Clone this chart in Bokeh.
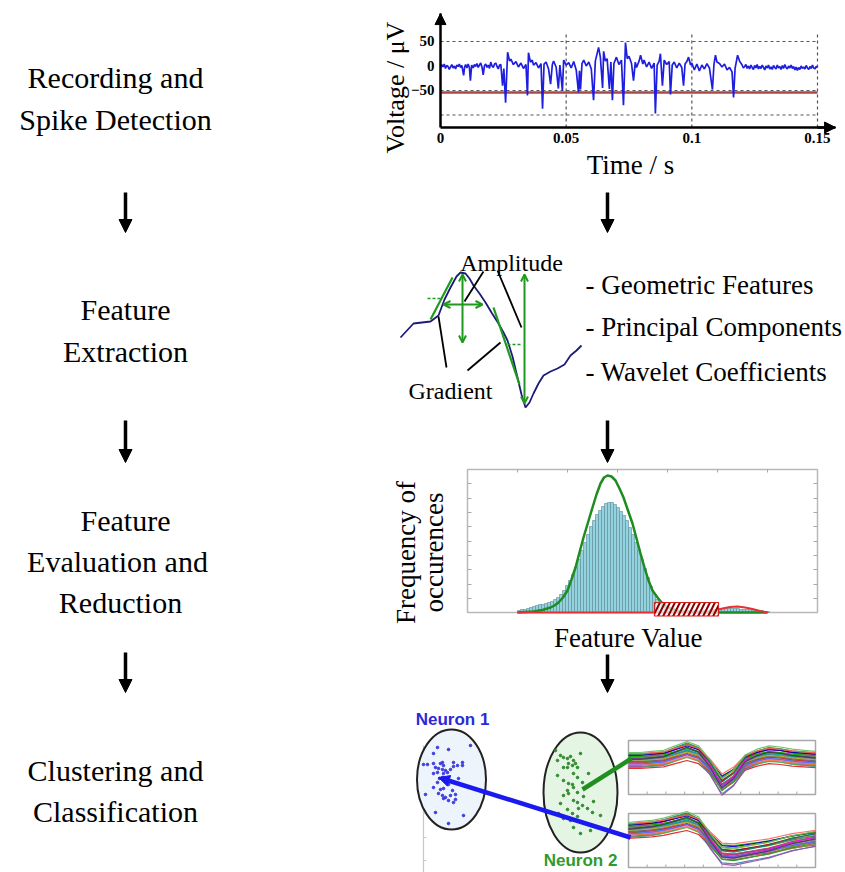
import numpy as np
from bokeh.plotting import figure
from bokeh.layouts import row, column
from bokeh.models import Range1d, FixedTicker, Arrow, NormalHead, OpenHead
from bokeh.core.properties import value
from bokeh.embed import file_html
from bokeh.resources import INLINE

SERIF = "Liberation Serif"
SANS = "Liberation Sans"

# ---------------------------------------------------------------- data
stage_lines = ["Recording and", "Spike Detection", "Feature", "Extraction",
               "Feature", "Evaluation and", "Reduction",
               "Clustering and", "Classification"]
feature_items = ["- Geometric Features", "- Principal Components", "- Wavelet Coefficients"]

time_ms = ([0, 0.5, 1, 1.5, 2, 2.5, 3, 3.5, 4, 4.5, 5, 5.5, 6, 6.5, 7, 7.5, 8, 8.5, 9.2, 9.6,
            10, 10.5, 11, 11.5, 11.9, 12.4, 13, 13.5, 14, 14.5, 15, 15.5, 16, 16.5, 17, 17.5, 18, 18.5, 19, 19.5,
            20, 20.5, 21, 21.5, 22, 22.5, 23, 23.5, 24, 24.7, 25.2, 25.9]
           + [26.7, 27.5, 28, 29, 30, 31, 32, 33, 34, 34.6, 35.0, 35.8, 36.5, 37, 38, 39, 40, 40.6, 41.2, 42, 43, 43.8, 44.5, 45, 46, 46.9, 47.5, 48.5, 49, 50]
           + [51, 52, 53, 54, 54.9, 55.3, 55.7, 56.3, 57, 58, 59, 60, 60.9, 61.6, 62.9, 63.6, 64.5, 64.9, 65.6, 66.3, 67.2, 67.8, 68.4, 69, 70, 71, 72, 72.8, 73.6, 74.3, 75]
           + [76, 76.8, 77.5, 78, 79, 79.6, 80.5, 81, 82, 83, 84, 85, 85.5, 86.2, 87, 87.5, 88.3, 89, 90, 91, 91.5, 92.2, 93, 94, 95, 96, 96.7, 97.3, 98, 98.7, 99.5, 100]
           + [101, 102, 103, 104, 105, 106, 107, 108.2, 108.8, 109.4, 110, 111, 112, 113, 114, 115, 116, 116.6, 117.2, 118.2, 119]
           + [120, 120.5, 121, 121.5, 122, 122.5, 123, 123.5, 124, 124.5, 125, 125.5, 126, 126.5, 127, 127.5, 128, 128.5, 129, 129.5,
              130, 130.5, 131, 131.5, 132, 132.5, 133, 133.5, 134, 134.5, 135, 135.5, 136, 136.5, 137, 137.5, 138, 138.5, 139, 139.5,
              140, 140.5, 141, 141.5, 142, 142.5, 143, 143.5, 144, 144.5, 145, 145.5, 146, 146.5, 147, 147.5, 148, 148.5, 149, 149.5, 150])
voltage_uv = ([-3, 3, -2, 4, -5, 1, -1, -7, -2, 3, -4, 0, -6, 2, -1, 4, -3, 1, -19, -2,
               3, -4, 4, -3, -30, 2, -4, 3, -1, 5, -3, 2, 6, -2, -18, 1, 4, -3, 2, -5,
               8, 0, -3, 4, 6, -1, -6, 2, 3, -40, -5, -75]
              + [28, 10, 14, 3, 9, -2, 6, -5, 3, -60, 27, 8, 12, 2, 7, -4, 5, -87, 4, 8, -6, -37, 3, 10, -2, -46, 2, -50, 12, 2]
              + [7, -4, 9, -8, -54, -10, -48, 5, 12, 0, 8, -6, -70, 10, 38, 18, -45, 30, 10, 15, -47, 8, -70, 5, 18, 3, 12, -80, 48, 15, 20]
              + [5, -30, 8, -3, 10, 22, 4, 12, -2, 8, -5, 6, -97, 2, 10, 25, -40, 12, 3, 9, -58, 2, 8, -4, 6, -3, -40, 4, 9, 18, 2, 6]
              + [-8, 4, -10, 2, -6, 5, -4, -48, 3, 22, 8, 5, -2, 4, -8, -3, -12, -64, -5, 22, 10]
              + [2, -4, -1, 3, -5, 0, -6, 2, -3, -7, 1, -4, 3, -6, -1, -5, 2, -3, -8, 0,
                 -4, 2, -6, -2, -7, 1, -3, -6, 2, -4, -1, -7, 1, -5, 3, -3, -6, 0, -4, 2,
                 -5, -1, -8, -2, -9, -3, -7, 0, -5, -2, -6, 1, -4, -7, -1, -5, 2, -4, -6, -1, -3])
threshold_uv = -54
v_ticks = [-50, 0, 50]
t_ticks = [0, 0.05, 0.1, 0.15]
t_tick_labels = ["0", "0.05", "0.1", "0.15"]
grid_v = [50, -50, -100]
grid_t = [0.05, 0.1, 0.15]

# feature-extraction sketch (a single spike waveform)
spike_x = [400, 413, 430, 438, 444, 450, 456, 460, 465, 469, 473, 479, 485, 491, 498, 503, 507, 512, 517, 521,
           525, 529, 533, 538, 543, 550, 557, 564, 570, 576, 581]
spike_y = [337, 323, 321, 315, 299, 287, 276, 272, 273, 278, 285, 293, 302, 312, 323, 332, 340, 356, 377, 394,
           407, 402, 393, 383, 375, 371, 368, 364, 355, 350, 345]

# histogram of one feature
hist_start, hist_bin = 1.0, 0.06
hist_counts = [2, 3, 3, 4, 5, 6, 7, 8, 8, 9,
               10, 11, 13, 15, 18, 22, 27, 32, 38, 45,
               53, 62, 70, 78, 86, 92, 98, 102, 106, 109,
               110, 110, 108, 105, 101, 97, 92, 85, 78, 70,
               62, 53, 44, 35, 26, 19, 13, 9, 6, 5,
               4, 3, 3, 2, 2, 2, 2, 2, 2, 2,
               2, 2, 2, 2, 3, 3, 3, 4, 4, 4,
               4, 4, 4, 4, 3, 3, 3, 3, 2, 2,
               2, 2, 1, 1]
fit_main_u = [1.0, 1.16, 1.32, 1.5, 1.66, 1.74, 1.82, 1.91, 2.0, 2.08, 2.16, 2.24, 2.32, 2.41, 2.5, 2.58, 2.66, 2.73,
              2.8, 2.88, 2.96, 3.04, 3.12, 3.21, 3.3, 3.38, 3.46, 3.54, 3.62, 3.7, 3.8, 3.9, 4.0, 4.26, 4.66, 5.2, 6.0]
fit_main_h = [0, 0.5, 1, 2.5, 5, 7, 10, 15, 22, 33, 45, 60, 75, 90, 105, 118, 129, 135,
              137, 136, 132, 124, 115, 102, 89, 74, 59, 45, 32, 22, 15, 9, 5, 1, 0, 0, 0]
fit_noise_u = [1.0, 4.8, 4.95, 5.1, 5.25, 5.4, 5.55, 5.7, 5.85, 6.0]
fit_noise_h = [0, 0, 2, 4, 5.5, 6, 5, 3.5, 1.5, 0]
overlap_box = dict(left=3.74, right=5.02, bottom=-3.5, top=10)

# clustering: two feature-space clusters
n1_f1 = [470, 437, 448, 433, 423, 427, 433, 440, 442, 443, 435, 438, 437, 442, 445, 433, 443, 447, 453, 457,
         462, 462, 453, 450, 442, 439, 447, 458, 437, 448, 443, 440, 433, 452, 438, 442, 445, 450, 455, 443,
         448, 455, 453, 425, 435, 463, 448]
n1_f2 = [745, 747, 749, 753, 764, 764, 763, 763, 762, 765, 767, 768, 772, 769, 770, 773, 773, 772, 762, 765,
         762, 765, 766, 769, 777, 778, 780, 778, 782, 784, 788, 789, 787, 790, 793, 795, 797, 795, 794, 798,
         800, 799, 802, 794, 812, 815, 823]
n2_f1 = [555, 560, 557, 563, 567, 570, 573, 575, 568, 572, 577, 567, 580, 563, 573, 577, 563, 568, 572, 573,
         582, 557, 588, 567, 577, 583, 563, 573, 560, 577, 582, 578, 587, 593, 567, 572, 577, 592, 563, 570,
         582, 600, 573, 590, 580, 568, 558]
n2_f2 = [750, 755, 760, 757, 758, 756, 760, 763, 763, 765, 767, 767, 753, 767, 773, 777, 780, 783, 784, 787,
         782, 775, 773, 790, 792, 796, 795, 800, 803, 802, 805, 808, 808, 801, 809, 813, 816, 812, 818, 820,
         822, 815, 827, 830, 833, 793, 813]

# overlaid spike waveforms of each class (sample index, amplitude)
wf_samples = [0, 2, 4, 6, 8, 10, 12, 14, 16, 18, 20, 22, 24, 26, 28, 30, 32]
wf_neuron2 = [0, 0, 1, 2, 6, 10, 6, -7, -24, -16, -2, 3, 6, 5, 3, 2, 1]
wf_neuron1 = [0, 1, 2, 4, 7, 10, 5, -10, -23, -24, -22, -20, -18, -15, -12, -10, -8]
wf_offsets = [-8, -7, -6.5, -6, -5, -4.5, -4, -3, -2.5, -2, -1.5, -1, -0.5, 0, 0.5,
              1, 1.5, 2, 2.5, 3, 3.5, 4, 5, 5.5, 6, 6.5, 7, 8, -3.5, 1.2]
wf_gains = [0.8, 1.1, 0.95, 1.2, 0.9, 1.05, 0.85, 1.0, 1.15, 0.9, 1.1, 0.95, 1.05, 0.85, 1.0,
            1.2, 0.9, 1.1, 0.95, 1.0, 1.25, 0.8, 1.05, 0.9, 1.15, 1.0, 0.85, 1.1, 0.95, 1.2]
wf_colors = ["#e41a1c", "#377eb8", "#4daf4a", "#984ea3", "#ff7f00", "#a65628", "#f781bf", "#17becf",
             "#2ca02c", "#d62728", "#9467bd", "#8c564b", "#1f77b4", "#bcbd22", "#7f7f7f", "#e377c2",
             "#00a0a0", "#c03080", "#3040c0", "#80a020", "#ff00ff", "#00b000", "#c00000", "#0000c0",
             "#008080", "#808000", "#ff6060", "#60c060", "#6060ff", "#404040"]

# ---------------------------------------------------------------- helpers
BLACK = "black"
GREEN = "#1f9a1f"


def base_fig(w, h, xr, yr):
    p = figure(width=w, height=h, x_range=Range1d(*xr), y_range=Range1d(*yr),
               toolbar_location=None, output_backend="svg", min_border=0,
               x_axis_location=None, y_axis_location=None)
    p.grid.visible = False
    p.outline_line_color = None
    p.background_fill_color = "white"
    p.border_fill_color = "white"
    return p


def canvas(w, h, x0, x1, y0, y1):
    # pixel-like canvas with y growing downwards
    return base_fig(w, h, (x0, x1), (y1, y0))


def flow_arrow(p, x, y0, y1):
    p.add_layout(Arrow(end=NormalHead(size=13, fill_color=BLACK, line_color=BLACK, line_width=1),
                       x_start=x, y_start=y0, x_end=x, y_end=y1,
                       line_width=3.5, line_color=BLACK))


def serif_text(p, x, y, txt, size, angle=0.0, align="center"):
    p.text(x=x, y=y, text=txt, angle=angle, text_font=value(SERIF), text_font_size=size,
           text_align=align, text_baseline="middle", text_color=BLACK)


# ---------------------------------------------------------------- left column
left = canvas(370, 872, 0, 370, 0, 872)
left_text_x = [115, 115, 125, 125, 125, 117, 120, 115, 115]
left_text_y = [77, 119, 309, 351, 520, 561, 602, 770, 811]
serif_text(left, left_text_x, left_text_y, stage_lines, "30px")
for y0, y1 in [(192, 232), (420, 462), (652, 692)]:
    flow_arrow(left, 125, y0, y1)

# ---------------------------------------------------------------- recording panel
# frame covers the whole panel; axes are pinned at t = 0 and V = -125.5
pv = figure(width=475, height=190, x_range=Range1d(-0.027851, 0.161141), y_range=Range1d(-254.08, 133.67),
            toolbar_location=None, output_backend="svg", min_border=0)
pv.outline_line_color = None
pv.grid.visible = False
pv.background_fill_color = "white"
pv.border_fill_color = "white"
for ax in (pv.xaxis[0], pv.yaxis[0]):
    ax.axis_line_width = 2.5
    ax.axis_line_color = BLACK
    ax.major_tick_out = 0
    ax.major_tick_in = 0
    ax.minor_tick_line_color = None
    ax.major_label_text_font = SERIF
    ax.major_label_text_font_style = "bold"
    ax.major_label_text_font_size = "15px"
    ax.major_label_text_color = BLACK
    ax.major_label_standoff = 6
pv.xaxis.fixed_location = -125.5
pv.yaxis.fixed_location = 0
pv.xaxis.bounds = (0, 0.1572)
pv.yaxis.bounds = (-125.5, 107)
pv.xaxis.ticker = FixedTicker(ticks=t_ticks)
pv.xaxis.major_label_overrides = dict(zip(t_ticks, t_tick_labels))
pv.yaxis.ticker = FixedTicker(ticks=v_ticks)

pv.segment(x0=0, y0=grid_v, x1=0.15, y1=grid_v, line_dash="3 3", line_color="#555555", line_width=1.2)
pv.segment(x0=grid_t, y0=-125.5, x1=grid_t, y1=68, line_dash="3 3", line_color="#555555", line_width=1.2)
pv.line([0, 0.15], [threshold_uv, threshold_uv], line_color="#a84848", line_width=2.5)
t_s = np.array(time_ms) / 1000.0
pv.line(t_s, voltage_uv, line_color="#1e1ee0", line_width=1.7)

pv.add_layout(Arrow(end=NormalHead(size=11, fill_color=BLACK, line_color=BLACK, line_width=1),
                    x_start=0, y_start=90, x_end=0, y_end=107, line_width=2.5, line_color=BLACK))
pv.add_layout(Arrow(end=NormalHead(size=11, fill_color=BLACK, line_color=BLACK, line_width=1),
                    x_start=0.15, y_start=-125.5, x_end=0.1572, y_end=-125.5, line_width=2.5, line_color=BLACK))
serif_text(pv, [-0.0179], [-44], ["Voltage / μV"], "26px", angle=np.pi / 2)
serif_text(pv, [0.0756], [-203], ["Time / s"], "27px")

# ---------------------------------------------------------------- feature extraction panel
pf = canvas(475, 275, 370, 845, 190, 465)
flow_arrow(pf, 607, 192, 232)
flow_arrow(pf, 607, 420, 462)
pf.line(spike_x, spike_y, line_color="#1c1c78", line_width=1.8)
# gradient tangents
pf.segment(x0=[430, 493], y0=[319, 307], x1=[452, 519], y1=[277, 384], line_color=GREEN, line_width=2.2)
pf.segment(x0=[427, 507], y0=[298, 344], x1=[440, 520], y1=[298, 344], line_color=GREEN, line_width=1.5,
           line_dash="3 2")
# amplitude / width double arrows
for xs, ys, xe, ye in [(462, 274, 462, 342), (443, 304, 482, 304), (524, 274, 524, 403)]:
    pf.add_layout(Arrow(start=OpenHead(size=7, line_color=GREEN, line_width=2),
                        end=OpenHead(size=7, line_color=GREEN, line_width=2),
                        x_start=xs, y_start=ys, x_end=xe, y_end=ye, line_color=GREEN, line_width=2))
# leader lines
pf.segment(x0=[483, 497, 438, 500], y0=[271, 270, 316, 342], x1=[464, 521, 446, 467], y1=[301, 327, 367, 370],
           line_color=BLACK, line_width=1.8)
serif_text(pf, [511, 450], [262, 390], ["Amplitude", "Gradient"], "24px")
serif_text(pf, [585, 585, 585], [284, 326, 371], feature_items, "27px", align="left")

# ---------------------------------------------------------------- histogram panel
# feature value: 50 px per unit, 0 at x=467 ; counts: 1 px per unit, 0 at y=612
ph = base_fig(475, 187, (-1.94, 7.56), (-40, 147))
ph.quad(left=0, right=7, bottom=0, top=143, fill_color=None, line_color="#b8b8b8", line_width=1.5)
top_ticks = [1, 2, 3, 4, 5, 6]
side_ticks = [14, 28, 43, 57, 71, 86, 100, 114, 129]
ph.segment(x0=top_ticks, y0=143, x1=top_ticks, y1=140, line_color="#a8a8a8", line_width=1)
ph.segment(x0=0, y0=side_ticks, x1=0.08, y1=side_ticks, line_color="#a8a8a8", line_width=1)
ph.segment(x0=7, y0=side_ticks, x1=6.92, y1=side_ticks, line_color="#a8a8a8", line_width=1)
centers = hist_start + hist_bin * (np.arange(len(hist_counts)) + 0.5)
ph.vbar(x=centers, top=hist_counts, bottom=0, width=hist_bin, fill_color="#93d3df",
        line_color="#5a8a94", line_width=0.6)
ph.line(fit_main_u, fit_main_h, line_color="#1e8c1e", line_width=2.5)
ph.line(fit_noise_u, fit_noise_h, line_color="#e83030", line_width=2)
ph.quad(fill_color="white", fill_alpha=0.7, line_color="#d02020", line_width=1.2,
        hatch_pattern="/", hatch_color="#8b0000", hatch_weight=2, hatch_scale=10, **overlap_box)
serif_text(ph, [-1.24, -0.68], [60, 60], ["Frequency of", "occurences"], "27px", angle=np.pi / 2)
serif_text(ph, [3.22], [-25], ["Feature Value"], "27px")

# ---------------------------------------------------------------- clustering panel
pc = canvas(475, 220, 370, 845, 652, 872)
flow_arrow(pc, 607, 654, 692)
pc.line([423, 423], [745, 872], line_color="#c8c8c8", line_width=1.2)
pc.segment(x0=423, y0=[767, 790, 813, 837, 860], x1=426, y1=[767, 790, 813, 837, 860],
           line_color="#c8c8c8", line_width=1)
pc.ellipse(x=[451, 580], y=[779, 792], width=[69, 74], height=[100, 120],
           fill_color=["#eef4fb", "#e4f5e4"], line_color="#222222", line_width=2)
pc.scatter(n1_f1, n1_f2, size=2.6, marker="circle", fill_color="#3a3ae0", line_color="#3a3ae0")
pc.scatter(n2_f1, n2_f2, size=2.6, marker="circle", fill_color="#2a8a2a", line_color="#2a8a2a")

box_left, box_right = 628, 815
wx = box_left + np.array(wf_samples) * (box_right - box_left) / 32.0
for base, tmpl, top, bot in [(760, wf_neuron2, 740, 794), (830, wf_neuron1, 813, 867)]:
    pc.quad(left=box_left, right=box_right, top=top, bottom=bot, fill_color="white",
            line_color="#a8a8a8", line_width=1.5)
    xs, ys = [], []
    for off, g in zip(wf_offsets, wf_gains):
        xs.append(list(wx))
        ys.append(list(base - (np.array(tmpl) * g + off)))
    pc.multi_line(xs, ys, line_color=wf_colors[:len(xs)], line_width=1.2, line_alpha=0.9)
    tick_x = [box_left + 18.7 * k for k in range(1, 10)]
    pc.segment(x0=tick_x, y0=bot, x1=tick_x, y1=bot - 3, line_color="#a8a8a8", line_width=1)

pc.line([582, 631], [789, 758], line_color="#1f8f1f", line_width=4.5)
pc.add_layout(Arrow(end=NormalHead(size=11, fill_color="#1a1af0", line_color="#1a1af0", line_width=1),
                    x_start=630, y_start=837, x_end=438, y_end=777, line_color="#1a1af0", line_width=4.5))
pc.text(x=[452], y=[719], text=["Neuron 1"], text_font=value(SANS), text_font_style="bold",
        text_font_size="17px", text_color="#2a2ad8", text_align="center", text_baseline="middle")
pc.text(x=[580], y=[860], text=["Neuron 2"], text_font=value(SANS), text_font_style="bold",
        text_font_size="17px", text_color="#2e9b2e", text_align="center", text_baseline="middle")

layout = row(left, column(pv, pf, ph, pc, spacing=0), spacing=0)
open("out.html", "w").write(file_html(layout, INLINE))
